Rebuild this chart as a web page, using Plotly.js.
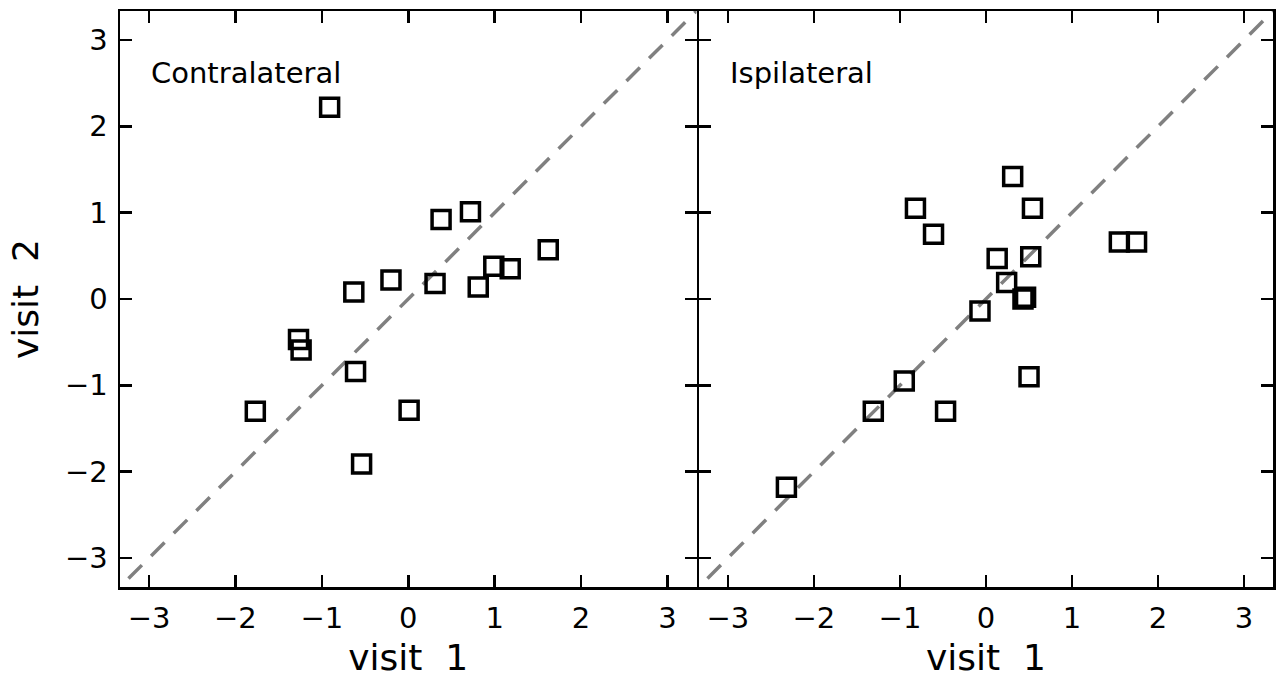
<!DOCTYPE html>
<html>
<head>
<meta charset="utf-8">
<script src="https://cdn.plot.ly/plotly-3.0.1.min.js"></script>
<style>
  html, body { margin: 0; padding: 0; background: #fff; }
  #chart { width: 1285px; height: 679px; }
</style>
</head>
<body>
<div id="chart"></div>
<script>
// Visit 1 vs visit 2 scores, one panel per side
const contraX = [-0.91, 0.38, 0.72, 1.62, 0.99, 1.18, 0.81, 0.31, -0.20, -0.63, -1.27, -1.24, -0.61, -1.77, 0.01, -0.54];
const contraY = [2.22, 0.92, 1.01, 0.57, 0.38, 0.35, 0.14, 0.18, 0.22, 0.08, -0.47, -0.59, -0.84, -1.30, -1.29, -1.91];

const ipsiX = [0.31, -0.82, 0.54, -0.61, 1.55, 1.75, 0.13, 0.52, 0.24, 0.43, 0.46, -0.07, -0.95, -1.31, -0.47, 0.50, -2.32];
const ipsiY = [1.42, 1.05, 1.05, 0.75, 0.66, 0.66, 0.47, 0.49, 0.19, 0.00, 0.02, -0.14, -0.95, -1.30, -1.30, -0.90, -2.18];

const panelLabels = ['Contralateral', 'Ispilateral'];
const tickVals = [-3, -2, -1, 0, 1, 2, 3];
const identity = [-3.5, 3.5];   // y = x reference line

const FONT = 'DejaVu Sans, sans-serif';
const axisRange = [-3.336, 3.336];
const LW = 2.5;

const refLine = (xa, ya) => ({
  x: identity, y: identity, xaxis: xa, yaxis: ya,
  mode: 'lines', hoverinfo: 'skip', showlegend: false,
  line: { color: '#808080', width: 3.5, dash: '19px,13px' }
});
const pts = (x, y, xa, ya) => ({
  x: x, y: y, xaxis: xa, yaxis: ya,
  mode: 'markers', showlegend: false,
  marker: { symbol: 'square-open', size: 18, color: '#000', line: { width: 3.5, color: '#000' } }
});

const data = [
  refLine('x', 'y'), pts(contraX, contraY, 'x', 'y'),
  refLine('x2', 'y2'), pts(ipsiX, ipsiY, 'x2', 'y2')
];

const baseAxis = {
  range: axisRange, tickvals: tickVals, showgrid: false, zeroline: false,
  showline: true, linecolor: '#000', linewidth: LW, mirror: 'ticks',
  ticks: 'inside', ticklen: 12, tickwidth: 2.5, tickcolor: '#000',
  tickfont: { family: FONT, size: 29, color: '#000' },
  fixedrange: true
};
const titleFont = { family: FONT, size: 36, color: '#000' };
const xTitle = { text: 'visit\u00a0\u00a01', font: titleFont, standoff: 11 };

// the two panels share one border line at the split
const plotW = 1285 - 120 - 12;
const split = 0.5 + LW / plotW;

const layout = {
  width: 1285, height: 679,
  margin: { l: 120, r: 12, t: 11, b: 92 },
  paper_bgcolor: '#fff', plot_bgcolor: '#fff',
  showlegend: false,
  xaxis: Object.assign({}, baseAxis, { domain: [0, 0.5], anchor: 'y', title: xTitle, ticklabelstandoff: 4 }),
  yaxis: Object.assign({}, baseAxis, { domain: [0, 1], anchor: 'x', ticklabelstandoff: 4,
    title: { text: 'visit\u00a0\u00a02', font: titleFont, standoff: 16 } }),
  xaxis2: Object.assign({}, baseAxis, { domain: [split, 1], anchor: 'y2', title: xTitle, ticklabelstandoff: 4 }),
  yaxis2: Object.assign({}, baseAxis, { domain: [0, 1], anchor: 'x2', showticklabels: false }),
  annotations: panelLabels.map((t, i) => ({
    text: t, xref: i ? 'x2' : 'x', yref: i ? 'y2' : 'y', x: -3, y: 2.62,
    xanchor: 'left', yanchor: 'middle', showarrow: false,
    font: { family: FONT, size: 29, color: '#000' }
  }))
};

Plotly.newPlot('chart', data, layout, { staticPlot: true, displayModeBar: false });
</script>
</body>
</html>
